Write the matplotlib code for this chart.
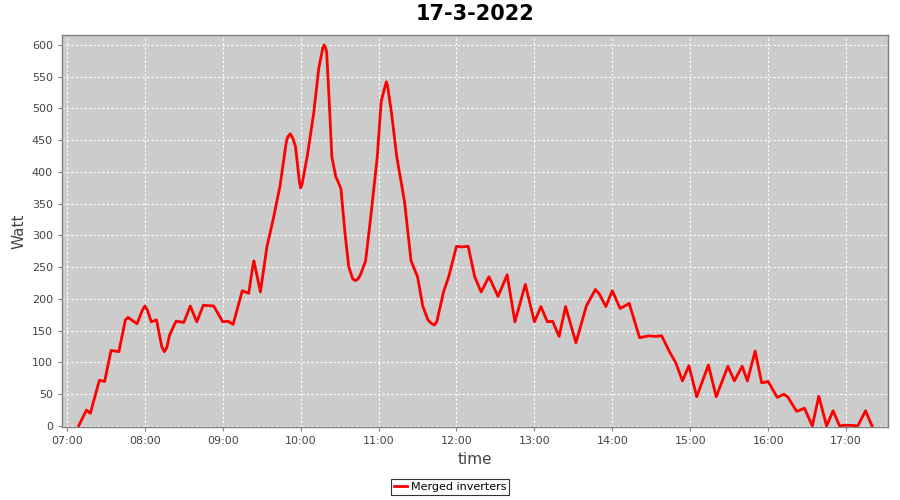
import matplotlib
matplotlib.use('Agg')
import matplotlib.pyplot as plt
from matplotlib.ticker import FixedLocator, FuncFormatter

# ==========================================
# data
# ==========================================
times = ['07:09', '07:15', '07:18', '07:25', '07:29', '07:34', '07:40', '07:45', '07:47', '07:54',
         '07:58', '08:00', '08:02', '08:05', '08:09', '08:13', '08:15', '08:17', '08:19', '08:24',
         '08:30', '08:35', '08:40', '08:45', '08:53', '09:00', '09:04', '09:08', '09:15', '09:20',
         '09:23', '09:24', '09:25', '09:29', '09:34', '09:39', '09:44', '09:49', '09:50', '09:52',
         '09:54', '09:56', '09:59', '10:00', '10:01', '10:05', '10:10', '10:14', '10:17', '10:18',
         '10:19', '10:20', '10:22', '10:24', '10:27', '10:31', '10:34', '10:37', '10:40', '10:42',
         '10:44', '10:46', '10:50', '10:54', '10:59', '11:02', '11:05', '11:06', '11:07', '11:10',
         '11:14', '11:20', '11:25', '11:30', '11:34', '11:38', '11:41', '11:43', '11:45', '11:46',
         '11:50', '11:54', '12:00', '12:04', '12:09', '12:14', '12:19', '12:25', '12:32', '12:39',
         '12:45', '12:53', '13:00', '13:05', '13:10', '13:14', '13:19', '13:24', '13:32', '13:40',
         '13:47', '13:50', '13:55', '14:00', '14:06', '14:13', '14:21', '14:28', '14:33', '14:38',
         '14:44', '14:49', '14:54', '14:59', '15:05', '15:14', '15:20', '15:29', '15:34', '15:40',
         '15:44', '15:50', '15:55', '16:00', '16:07', '16:12', '16:15', '16:22', '16:28', '16:34',
         '16:39', '16:45', '16:50', '16:55', '16:59', '17:04', '17:09', '17:15', '17:20']
watt = [0, 25, 20, 72, 70, 119, 117, 167, 171, 161,
        182, 189, 182, 164, 167, 125, 117, 124, 143, 165,
        163, 189, 164, 190, 189, 164, 165, 160, 213, 209,
        250, 260, 250, 211, 282, 327, 377, 448, 455, 460,
        453, 440, 385, 375, 380, 424, 492, 564, 595, 600,
        597, 589, 511, 424, 393, 374, 306, 251, 232, 229,
        231, 238, 260, 330, 424, 511, 535, 542, 535, 492,
        424, 353, 260, 235, 189, 167, 161, 159, 165, 175,
        211, 235, 283, 282, 283, 235, 211, 235, 204, 238,
        164, 223, 164, 188, 164, 165, 141, 188, 131, 189,
        215, 208, 188, 213, 185, 193, 139, 142, 141, 142,
        117, 99, 71, 95, 46, 96, 46, 94, 71, 94,
        71, 118, 68, 70, 45, 50, 46, 23, 28, 0,
        47, 0, 24, 0, 1, 1, 0, 24, 0]

hours = [int(t[:2]) + int(t[3:]) / 60 for t in times]
tick_hours = list(range(7, 18))
y_ticks = list(range(0, 601, 50))

# ==========================================
# plot
# ==========================================
fig = plt.figure(figsize=(9, 5), dpi=100)
ax = fig.add_axes([62 / 900, 1 - 427 / 500, 826 / 900, 392 / 500])
ax.set_facecolor('#cccccc')

ax.plot(hours, watt, color='#ff0000', lw=2.0, label='Merged inverters',
        solid_joinstyle='round')

ax.set_xlim(6 + 56.2 / 60, 17 + 32.3 / 60)
ax.set_ylim(-1.6, 615.7)
ax.xaxis.set_major_locator(FixedLocator(tick_hours))
ax.xaxis.set_major_formatter(FuncFormatter(lambda v, p: '%02d:00' % round(v)))
ax.yaxis.set_major_locator(FixedLocator(y_ticks))

ax.grid(True, color='white', linestyle=(0, (2, 2)), lw=0.8)
ax.set_axisbelow(True)
for s in ax.spines.values():
    s.set_color('#808080')
    s.set_linewidth(1.0)

ax.tick_params(axis='both', colors='#888888', labelcolor='#444444', labelsize=8, length=3, width=0.8)

ax.set_title('17-3-2022', fontsize=15, fontweight='bold', pad=11)
ax.set_xlabel('time', fontsize=11, color='#444444', labelpad=4)
ax.set_ylabel('Watt', fontsize=11, color='#444444', labelpad=4)

leg = fig.legend(loc='center', bbox_to_anchor=(450 / 900, 1 - 487 / 500), fontsize=8,
                 frameon=True, fancybox=False, edgecolor='black', handlelength=1.2,
                 handletextpad=0.3, borderpad=0.3, borderaxespad=0)
leg.get_frame().set_linewidth(0.8)

fig.savefig('out.png', dpi=100)
